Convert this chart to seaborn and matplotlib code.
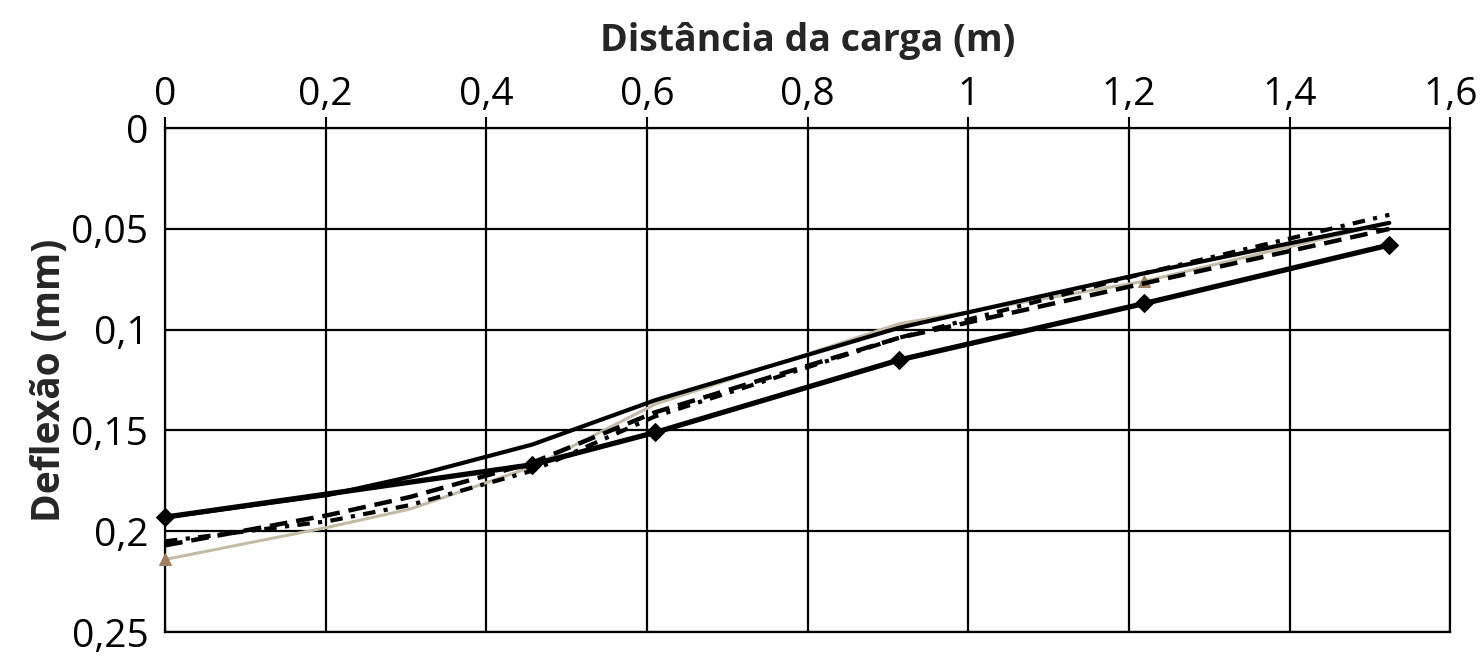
import matplotlib
matplotlib.use("Agg")
import matplotlib.pyplot as plt
import seaborn as sns
import pandas as pd
from matplotlib.ticker import FuncFormatter

# ---- data ----
x_sensors = [0.0, 0.203, 0.305, 0.457, 0.610, 0.914, 1.219, 1.524]
x_diamond = [0.0, 0.457, 0.610, 0.914, 1.219, 1.524]
x_gray = [0.0, 0.203, 0.305, 0.457, 0.610, 0.914, 1.219, 1.524]

defl_diamond = [0.193, 0.167, 0.151, 0.115, 0.087, 0.058]
defl_solid = [0.193, 0.182, 0.173, 0.157, 0.135, 0.099, 0.072, 0.047]
defl_dashed = [0.207, 0.192, 0.183, 0.166, 0.141, 0.104, 0.077, 0.050]
defl_dashdot = [0.205, 0.195, 0.187, 0.170, 0.143, 0.104, 0.072, 0.043]
defl_gray = [0.214, 0.198, 0.189, 0.168, 0.137, 0.097, 0.076, 0.047]

x_ticks = [0, 0.2, 0.4, 0.6, 0.8, 1.0, 1.2, 1.4, 1.6]
y_ticks = [0, 0.05, 0.1, 0.15, 0.2, 0.25]
x_title = "Distância da carga (m)"
y_title = "Deflexão (mm)"

sns.set_theme(style="white")
plt.rcParams["font.family"] = ["Open Sans", "DejaVu Sans"]

fig = plt.figure(figsize=(14.8, 6.57), dpi=100)
ax = fig.add_axes([0.1115, 0.038, 0.8685, 0.767])

df_gray = pd.DataFrame({"x": x_gray, "y": defl_gray})
sns.lineplot(data=df_gray, x="x", y="y", ax=ax, color="#c4bba6", lw=2.2,
             marker="^", markersize=9, markerfacecolor="#a08060",
             markeredgecolor="#a08060", markevery=[0, 6], sort=False,
             zorder=3, clip_on=False)

df_dd = pd.DataFrame({"x": x_sensors, "y": defl_dashdot})
sns.lineplot(data=df_dd, x="x", y="y", ax=ax, color="black", lw=3.0,
             sort=False, zorder=4).lines[-1].set_dashes([3, 2, 1, 2])

df_dash = pd.DataFrame({"x": x_sensors, "y": defl_dashed})
sns.lineplot(data=df_dash, x="x", y="y", ax=ax, color="black", lw=3.2,
             sort=False, zorder=4).lines[-1].set_dashes([4, 2])

df_solid = pd.DataFrame({"x": x_sensors, "y": defl_solid})
sns.lineplot(data=df_solid, x="x", y="y", ax=ax, color="black", lw=3.0,
             sort=False, zorder=5)

df_dia = pd.DataFrame({"x": x_diamond, "y": defl_diamond})
sns.lineplot(data=df_dia, x="x", y="y", ax=ax, color="black", lw=3.8,
             marker="D", markersize=9, markeredgecolor="black",
             sort=False, zorder=6, clip_on=False)

ax.set_xlim(0, 1.6)
ax.set_ylim(0.25, 0)
ax.set_xticks(x_ticks)
ax.set_yticks(y_ticks)

def comma_fmt(v, pos):
    s = f"{v:.2f}".rstrip("0").rstrip(".")
    return s.replace(".", ",")

ax.xaxis.set_major_formatter(FuncFormatter(comma_fmt))
ax.yaxis.set_major_formatter(FuncFormatter(comma_fmt))

ax.xaxis.tick_top()
ax.xaxis.set_label_position("top")
ax.tick_params(axis="both", which="major", direction="out", length=8,
               width=1.5, color="black", labelsize=28, labelcolor="black")
ax.tick_params(axis="x", pad=2)
ax.tick_params(axis="y", pad=4)

ax.grid(True, color="black", lw=1.6)
ax.set_axisbelow(True)
for sp in ax.spines.values():
    sp.set_color("black")
    sp.set_linewidth(1.6)

ax.set_xlabel(x_title, fontsize=27, fontweight="bold", labelpad=18)
ax.set_ylabel(y_title, fontsize=28, fontweight="bold", labelpad=2)

fig.savefig("out.png", dpi=100, facecolor="white")
